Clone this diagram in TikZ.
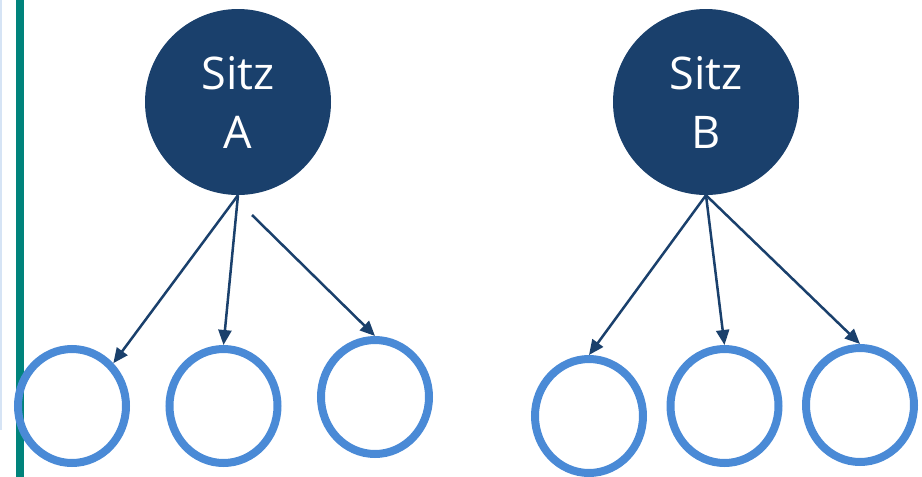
\documentclass[tikz,border=0pt]{standalone}
\usepackage{fontspec}
\setmainfont{Open Sans}
\usetikzlibrary{shapes.geometric,arrows.meta}
\definecolor{sitzblau}{HTML}{1A406C}
\definecolor{kreisblau}{HTML}{4A8AD6}
\definecolor{leiste}{HTML}{00837B}
\tikzset{
    SZ/.style ={circle,minimum size=186pt,inner sep=0pt,fill=sitzblau,text=white,align=center,
                font=\fontsize{45}{59}\selectfont},
    KR/.style ={ellipse,minimum width=108pt,minimum height=114pt,inner sep=0pt,draw=kreisblau,line width=8pt},
    PF/.style ={draw=sitzblau,line width=2.5pt,-{Triangle[length=15pt,width=13pt]}}}

\begin{document}
\begin{tikzpicture}[x=1pt,y=-1pt]
        \useasboundingbox (0,0) rectangle (922,477);
        \draw[line width=1.5pt,color={rgb,255:red,214;green,228;blue,245}] (0.8,0) -- (0.8,430);
        \draw[line width=7.5pt,leiste] (20,0) -- (20,477);
        \node[SZ] (1) at(238,102){Sitz\\A};
        \node[SZ] (2) at(706,102){Sitz\\B};
        \node[KR] (3) at(72,406){};
        \node[KR] (4) at(223.5,406){};
        \node[KR] (5) at(375,397){};
        \node[KR] (6) at(589,416){};
        \node[KR] (7) at(724.5,406){};
        \node[KR] (8) at(860,405){};
        \coordinate (a3) at(252,215);
        \draw[PF] (1.south) --(3.46);
        \draw[PF] (1.south) --(4.north);
        \draw[PF] (a3) --(5.north);
        \draw[PF] (2.south) --(6.north);
        \draw[PF] (2.south) --(7.north);
        \draw[PF] (2.south) --(8.north);
    \end{tikzpicture}
\end{document}
